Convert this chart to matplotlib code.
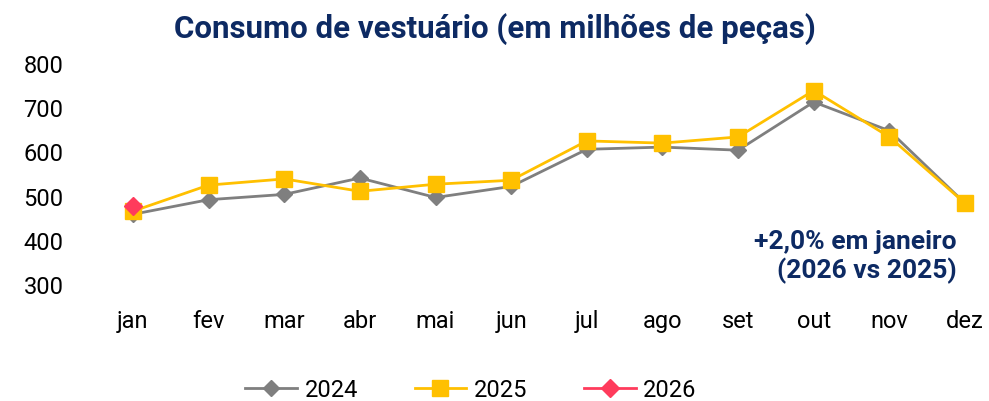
import matplotlib.pyplot as plt

plt.rcParams['font.family'] = ['Roboto', 'DejaVu Sans']

# dados (milhões de peças)
meses = ["jan", "fev", "mar", "abr", "mai", "jun", "jul", "ago", "set", "out", "nov", "dez"]
v2024 = [460, 493, 505, 542, 498, 523, 607, 612, 605, 714, 649, 485]
v2025 = [467, 526, 540, 512, 528, 537, 626, 621, 635, 740, 635, 485]
v2026 = [479]
yticks = [300, 400, 500, 600, 700, 800]

navy = "#0d2a63"

fig = plt.figure(figsize=(9.89, 4.01), dpi=100)
ax = fig.add_axes([133/989, 1-285/401, (965-133)/989, (285-64)/401])

x = list(range(len(meses)))
ax.plot(x, v2024, color="#7f7f7f", lw=2, marker="D", ms=8, label="2024", clip_on=False, zorder=3)
ax.plot(x, v2025, color="#ffc000", lw=2, marker="s", ms=11, label="2025", clip_on=False, zorder=4)
ax.plot(x[:len(v2026)], v2026, color="#ff3b5c", lw=2, marker="D", ms=9, label="2026", clip_on=False, zorder=5)

ax.set_xlim(0, 11)
ax.set_ylim(300, 800)
ax.set_xticks(x)
ax.set_xticklabels(meses)
ax.set_yticks(yticks)
ax.tick_params(axis="both", length=0, labelsize=17)
ax.tick_params(axis="y", pad=50)
ax.tick_params(axis="x", pad=18)
for s in ax.spines.values():
    s.set_visible(False)

fig.text(0.5, 0.928, "Consumo de vestuário (em milhões de peças)", ha="center", va="center",
         fontsize=22.5, fontweight="bold", color=navy)

ax.text(0.99, 0.127, "+2,0% em janeiro\n(2026 vs 2025)", transform=ax.transAxes, ha="right", va="center",
        fontsize=19, fontweight="bold", color=navy, multialignment="right", linespacing=1.2)

fig.legend(loc="center", bbox_to_anchor=(0.476, 0.027), ncol=3, frameon=False, fontsize=17,
           handlelength=2.2, handletextpad=0.3, columnspacing=2.4)

fig.savefig("out.png", dpi=100)
